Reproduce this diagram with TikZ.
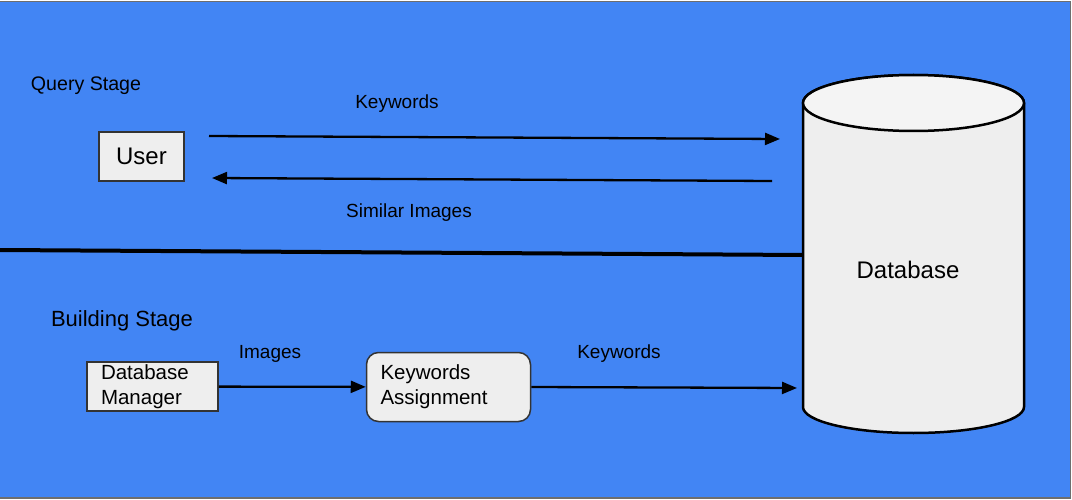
\documentclass[tikz,border=0pt]{standalone}
\usepackage{fontspec}
\setmainfont{Liberation Sans}
\usepackage{tikz}
\usetikzlibrary{positioning, arrows.meta}
\definecolor{bgblue}{HTML}{4285F4}
\definecolor{boxgray}{HTML}{EEEEEE}
\definecolor{capgray}{HTML}{F4F4F4}
\definecolor{edgegray}{HTML}{333333}
\definecolor{framegray}{HTML}{6E6E6E}
\tikzset{x=1pt, y=-1pt, every node/.style={inner sep=0pt, font=\fontsize{19}{23}\selectfont},
    box/.style={draw=edgegray, fill=boxgray, line width=1.5pt, minimum height=49pt},
    bigtext/.style={font=\fontsize{24}{28}\selectfont},
    boxtext/.style={font=\fontsize{20.5}{25}\selectfont, align=left, inner xsep=14pt},
    flow/.style={draw, -{Triangle[length=15pt,width=12pt]}, line width=2.3pt}}

\begin{document}
\begin{tikzpicture}
            \useasboundingbox (0,0) rectangle (1072,500);
            \fill[white] (0,0) rectangle (1072,500);
            \draw[fill=bgblue, draw=framegray, line width=1.5pt] (-2,1.5) rectangle (1070.5,498);

            \filldraw[fill=boxgray, line width=2.5pt] (803,103) -- (803,407)
                arc[start angle=180, end angle=0, x radius=110.5, y radius=26] -- (1024,103)
                arc[start angle=0, end angle=-180, x radius=110.5, y radius=28] -- cycle;
            \filldraw[fill=capgray, line width=2.5pt] (913.5,103) ellipse[x radius=110.5, y radius=28];
            \node[bigtext] (db) at (908,269.5) {Database};

            \node[font=\fontsize{19.6}{23}\selectfont] (qstage) at (86,85.5) {Query Stage};
            \node[box, bigtext, minimum width=85pt] (user) at (141.5,156.5) {User};
            \node (kwtop) at (397,103.5) {Keywords};
            \node (simimg) at (409,213) {Similar Images};

            \node[font=\fontsize{22}{26}\selectfont] (bstage) at (122,320.5) {Building Stage};
            \node[box, boxtext, text width=103pt] (dbman) at (152.5,386.5) {Database\\Manager};
            \node[box, boxtext, text width=136pt, minimum height=69pt, rounded corners=12pt] (kwassign) at (448.5,387) {Keywords\\Assignment};
            \node (imglabel) at (270,353.5) {Images};
            \node (kwlabel) at (619,353.5) {Keywords};

            \coordinate (qa) at (209,136);
            \coordinate (qb) at (780,139);
            \coordinate (ra) at (772,181);
            \coordinate (rb) at (212,178);
            \coordinate (sepa) at (0,250);
            \coordinate (sepb) at (803,255);
            \coordinate (kb) at (797,388);

            \draw[flow] (qa) -- (qb);
            \draw[flow] (ra) -- (rb);
            \draw[line width=4pt] (sepa) -- (sepb);
            \draw[flow] (dbman) -- (kwassign);
            \draw[flow] (kwassign.east) -- (kb);
        \end{tikzpicture}
\end{document}
